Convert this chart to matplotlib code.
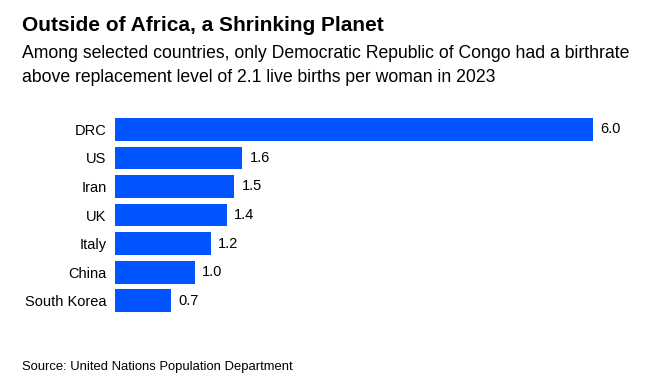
import matplotlib
matplotlib.use("Agg")
import matplotlib.pyplot as plt

countries = ["DRC", "US", "Iran", "UK", "Italy", "China", "South Korea"]
birthrates = [6.0, 1.6, 1.5, 1.4, 1.2, 1.0, 0.7]

BLUE = "#0055ff"
plt.rcParams["font.family"] = ["Liberation Sans", "DejaVu Sans"]

fig = plt.figure(figsize=(6.57, 3.91), dpi=100)
ax = fig.add_axes([0.175, 0.1946, 0.7276, 0.511])

pos = list(range(len(countries)))
ax.barh(pos, birthrates, height=0.8, color=BLUE)
ax.set_yticks(pos)
ax.set_yticklabels(countries, fontsize=10.5)
ax.set_xlim(0, 6.0)
ax.set_ylim(len(countries) - 0.5, -0.5)
ax.tick_params(axis="y", length=0, pad=6)
ax.set_xticks([])
for s in ax.spines.values():
    s.set_visible(False)

for p, v in zip(pos, birthrates):
    ax.annotate(f"{v:.1f}", (v, p), xytext=(5.5, 0), textcoords="offset points",
                va="center", ha="left", fontsize=10.5)

fig.text(22 / 657, 1 - 31 / 391, "Outside of Africa, a Shrinking Planet",
         fontsize=15, fontweight="bold", va="baseline")
fig.text(22 / 657, 1 - 58 / 391,
         "Among selected countries, only Democratic Republic of Congo had a birthrate",
         fontsize=12.7, va="baseline")
fig.text(22 / 657, 1 - 82 / 391,
         "above replacement level of 2.1 live births per woman in 2023",
         fontsize=12.7, va="baseline")
fig.text(22 / 657, 1 - 370 / 391, "Source: United Nations Population Department",
         fontsize=9.4, va="baseline")

fig.savefig("out.png", dpi=100)
